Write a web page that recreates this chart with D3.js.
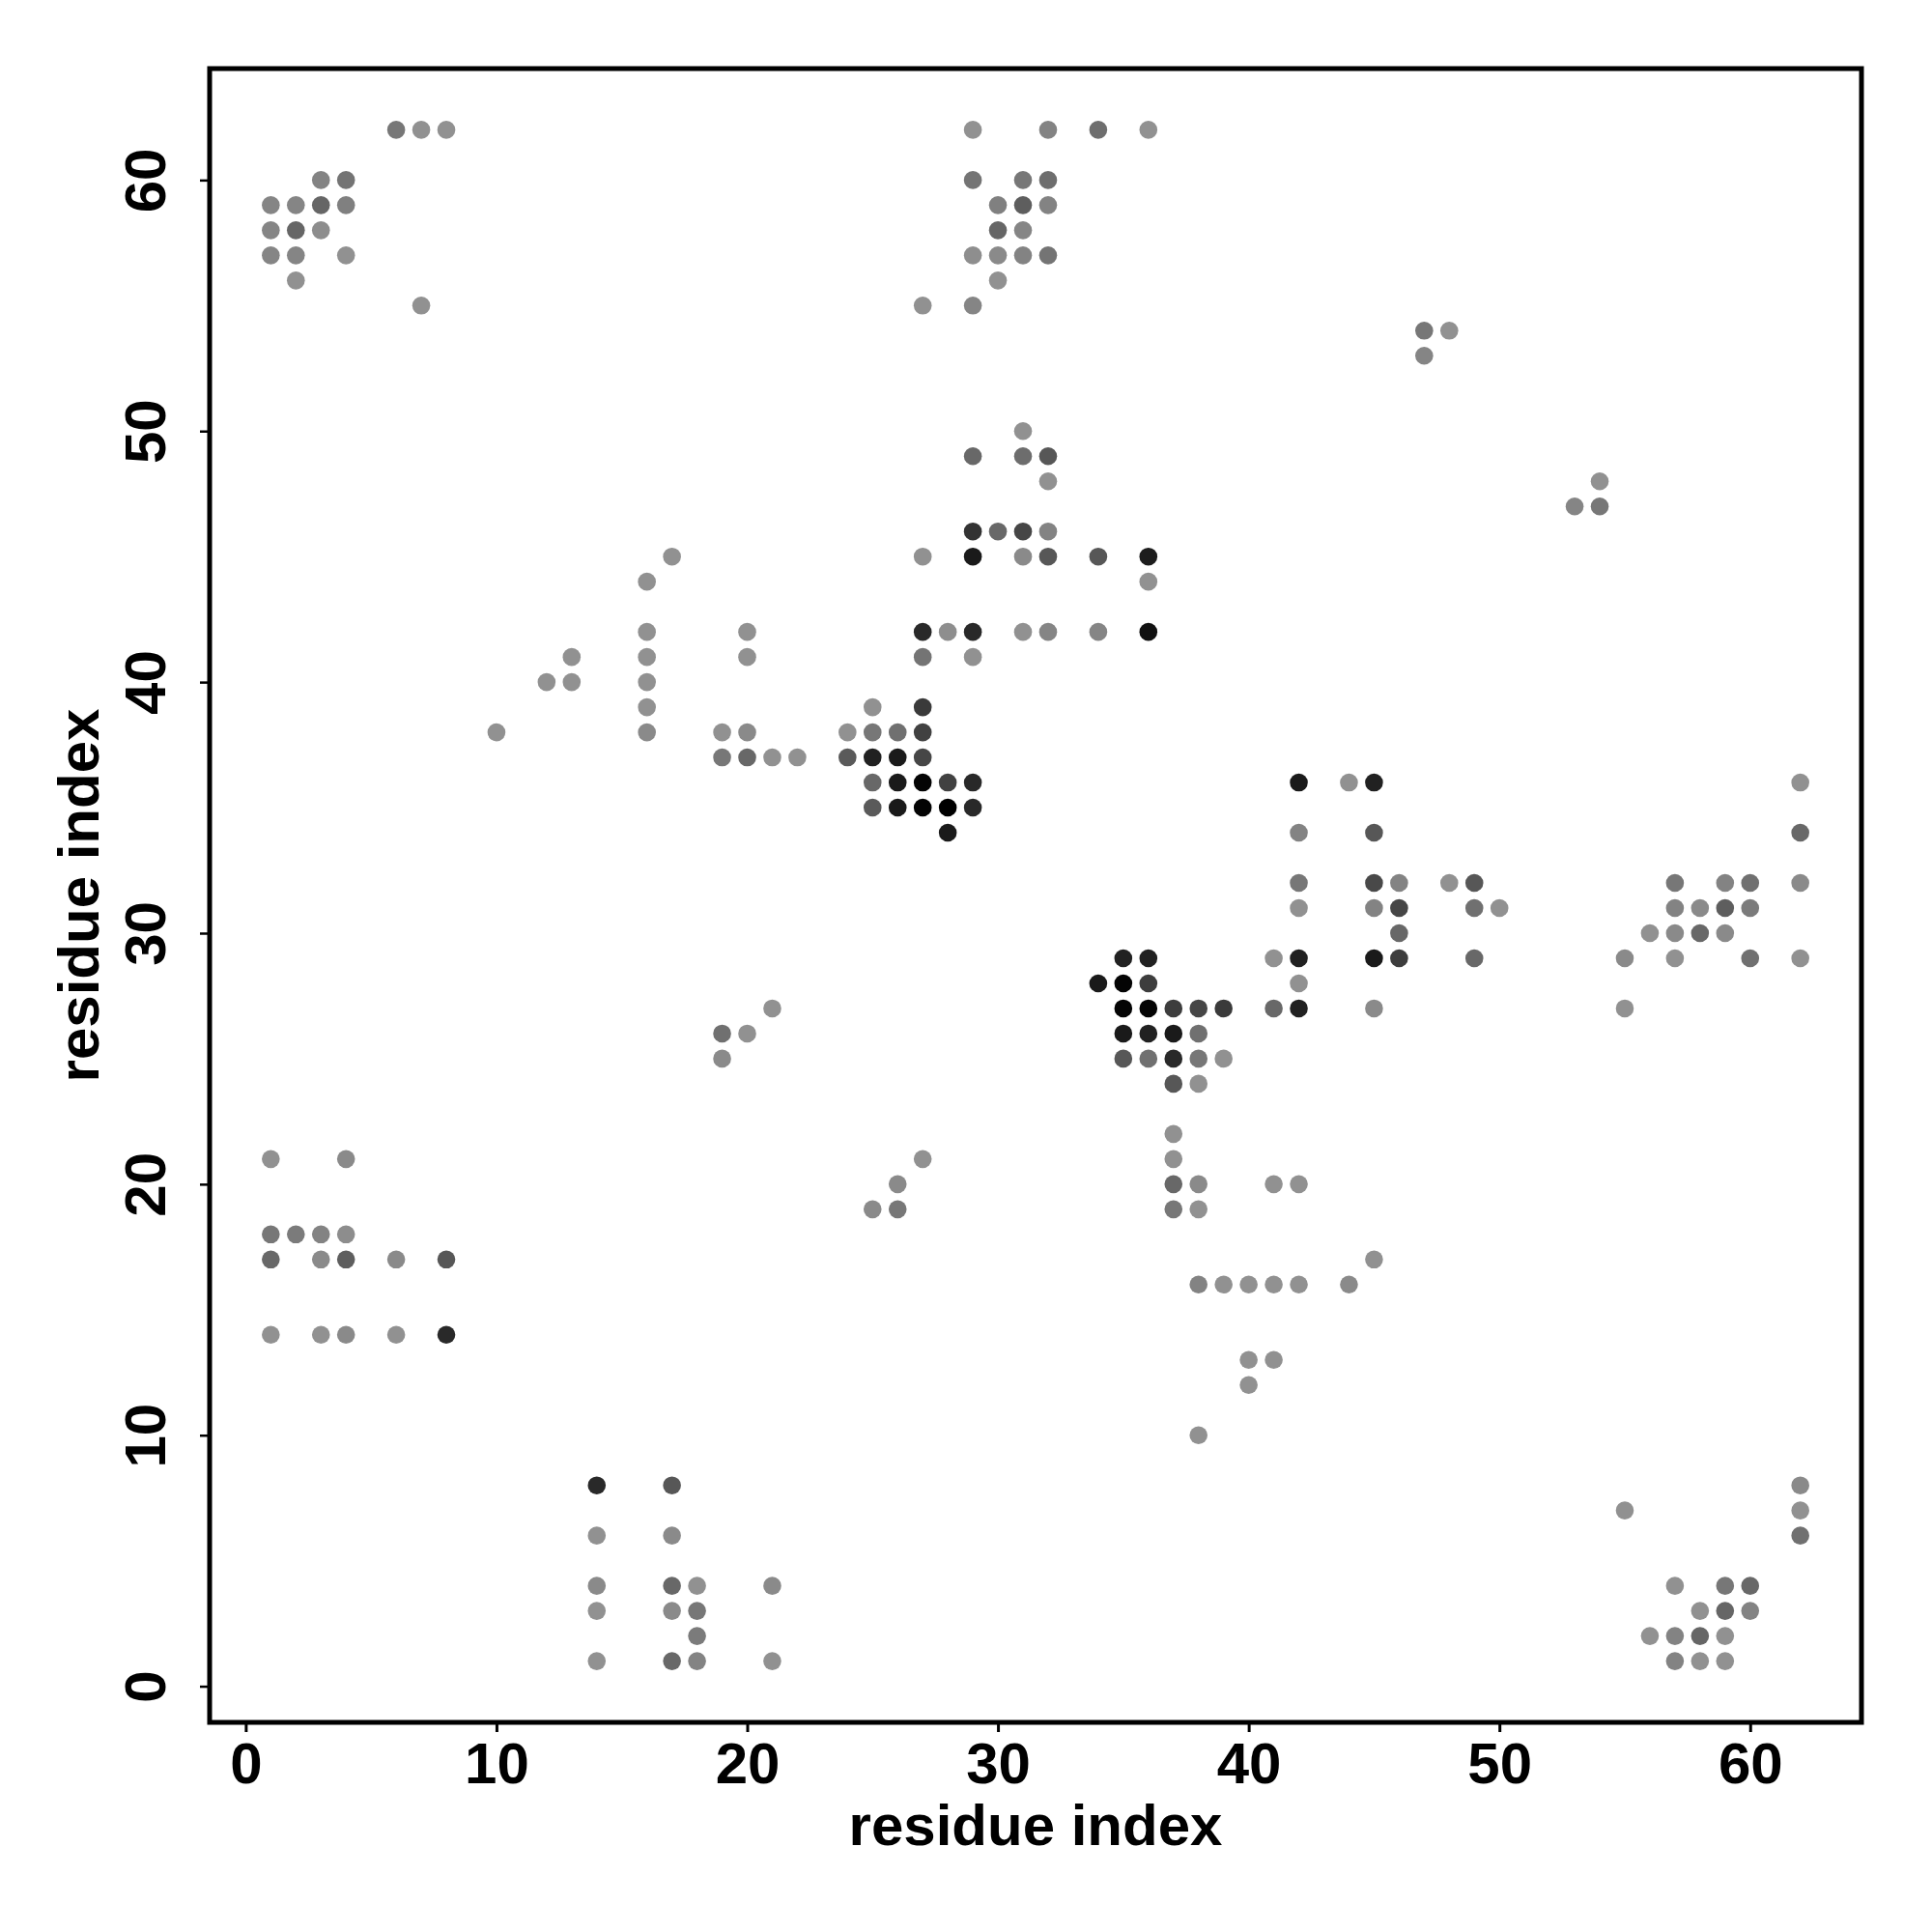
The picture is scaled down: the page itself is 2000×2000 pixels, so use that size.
<!DOCTYPE html>
<html>
<head>
<meta charset="utf-8">
<script src="https://cdn.jsdelivr.net/npm/d3@7"></script>
<style>
  body { margin: 0; background: #fff; }
  text { font-family: "Liberation Sans", Arial, Helvetica, sans-serif; font-weight: bold; }
</style>
</head>
<body>
<div id="contactMap"></div>
<script>
  ///////////// DATA: residue pairs (x, y) and contact weight ///////////////
  var resX = [
    6, 7, 8, 29, 32, 34, 36,
    3, 4, 29, 31, 32,
    1, 2, 3, 4, 30, 31, 32,
    1, 2, 3, 30, 31,
    1, 2, 4, 29, 30, 31, 32,
    2, 30,
    7, 27, 29,
    47, 48,
    47,
    31,
    29, 31, 32,
    32, 54,
    53, 54,
    29, 30, 31, 32,
    17, 27, 29, 31, 32, 34, 36,
    16, 36,
    16, 20, 27, 28, 29, 31, 32, 34, 36,
    13, 16, 20, 27, 29,
    12, 13, 16,
    16, 25, 27,
    10, 16, 19, 20, 24, 25, 26, 27,
    19, 20, 21, 22, 24, 25, 26, 27,
    25, 26, 27, 28, 29, 42, 44, 45, 62,
    25, 26, 27, 28, 29,
    28, 42, 45, 62,
    42, 45, 46, 48, 49, 57, 59, 60, 62,
    42, 45, 46, 49, 50, 57, 58, 59, 60,
    46, 56, 57, 58, 59,
    35, 36, 41, 42, 45, 46, 49, 55, 57, 60, 62,
    34, 35, 36, 42,
    21, 35, 36, 37, 38, 39, 41, 42, 45, 55,
    19, 20, 35, 36, 37, 38,
    19, 35, 36, 37, 38, 39,
    37, 38,
    37,
    1, 4, 27, 37,
    26, 37, 38, 41, 42,
    25, 26, 37, 38,
    1, 2, 3, 4,
    1, 3, 4, 6, 8, 45,
    38, 39, 40, 41, 42, 44,
    1, 3, 4, 6, 8,
    40, 41,
    40,
    38,
    14, 17, 62,
    55, 62,
    14, 17, 62,
    14, 17, 18, 21, 57, 59, 60,
    14, 17, 18, 58, 59, 60,
    18, 56, 57, 58, 59,
    14, 17, 18, 21, 57, 58, 59
  ]

  var resY = [
    62, 62, 62, 62, 62, 62, 62,
    60, 60, 60, 60, 60,
    59, 59, 59, 59, 59, 59, 59,
    58, 58, 58, 58, 58,
    57, 57, 57, 57, 57, 57, 57,
    56, 56,
    55, 55, 55,
    54, 54,
    53,
    50,
    49, 49, 49,
    48, 48,
    47, 47,
    46, 46, 46, 46,
    45, 45, 45, 45, 45, 45, 45,
    44, 44,
    42, 42, 42, 42, 42, 42, 42, 42, 42,
    41, 41, 41, 41, 41,
    40, 40, 40,
    39, 39, 39,
    38, 38, 38, 38, 38, 38, 38, 38,
    37, 37, 37, 37, 37, 37, 37, 37,
    36, 36, 36, 36, 36, 36, 36, 36, 36,
    35, 35, 35, 35, 35,
    34, 34, 34, 34,
    32, 32, 32, 32, 32, 32, 32, 32, 32,
    31, 31, 31, 31, 31, 31, 31, 31, 31,
    30, 30, 30, 30, 30,
    29, 29, 29, 29, 29, 29, 29, 29, 29, 29, 29,
    28, 28, 28, 28,
    27, 27, 27, 27, 27, 27, 27, 27, 27, 27,
    26, 26, 26, 26, 26, 26,
    25, 25, 25, 25, 25, 25,
    24, 24,
    22,
    21, 21, 21, 21,
    20, 20, 20, 20, 20,
    19, 19, 19, 19,
    18, 18, 18, 18,
    17, 17, 17, 17, 17, 17,
    16, 16, 16, 16, 16, 16,
    14, 14, 14, 14, 14,
    13, 13,
    12,
    10,
    8, 8, 8,
    7, 7,
    6, 6, 6,
    4, 4, 4, 4, 4, 4, 4,
    3, 3, 3, 3, 3, 3,
    2, 2, 2, 2, 2,
    1, 1, 1, 1, 1, 1, 1
  ]

  // 0 = weak contact (light grey) ... 1 = strong contact (black)
  var weight = [
    0.18, 0, 0, 0, 0.1, 0.24, 0,
    0.1, 0.2, 0.2, 0.18, 0.24,
    0.08, 0.08, 0.3, 0.12, 0.12, 0.35, 0.1,
    0.08, 0.3, 0.03, 0.3, 0.08,
    0.08, 0.08, 0, 0.02, 0.05, 0.1, 0.2,
    0, 0,
    0, 0, 0.08,
    0.18, 0,
    0.08,
    0,
    0.28, 0.25, 0.4,
    0, 0,
    0.08, 0.18,
    0.65, 0.28, 0.52, 0.1,
    0, 0, 0.82, 0.05, 0.4, 0.4, 0.8,
    0, 0,
    0, 0, 0.72, 0.02, 0.72, 0, 0.08, 0.08, 0.88,
    0, 0, 0, 0.2, 0,
    0, 0, 0,
    0, 0, 0.6,
    0, 0.05, 0, 0.05, 0, 0.18, 0.23, 0.55,
    0.18, 0.28, 0, 0, 0.38, 0.77, 0.82, 0.52,
    0.28, 0.82, 0.97, 0.55, 0.72, 0.82, 0, 0.77, 0,
    0.38, 0.82, 0.97, 1, 0.72,
    0.82, 0.1, 0.4, 0.28,
    0.18, 0.5, 0.1, 0, 0.4, 0.18, 0.1, 0.23, 0.05,
    0, 0.1, 0.52, 0.23, 0, 0.1, 0.05, 0.35, 0.15,
    0.28, 0, 0.05, 0.28, 0.05,
    0.77, 0.77, 0, 0.77, 0.82, 0.58, 0.28, 0.05, 0, 0.23, 0,
    0.82, 0.97, 0.58, 0,
    0, 0.97, 0.97, 0.58, 0.52, 0.6, 0.28, 0.77, 0.05, 0,
    0.23, 0, 0.82, 0.77, 0.82, 0.23,
    0.05, 0.4, 0.23, 0.72, 0.18, 0,
    0.4, 0,
    0,
    0, 0.05, 0, 0,
    0.05, 0.28, 0.05, 0, 0,
    0.05, 0.18, 0.18, 0,
    0.18, 0.15, 0.1, 0.03,
    0.28, 0.05, 0.35, 0.05, 0.4, 0,
    0.1, 0, 0, 0, 0, 0.05,
    0, 0, 0.05, 0, 0.72,
    0, 0,
    0,
    0,
    0.72, 0.4, 0.05,
    0, 0,
    0, 0.05, 0.23,
    0.05, 0.28, 0, 0.05, 0, 0.18, 0.28,
    0, 0.05, 0.18, 0, 0.3, 0.1,
    0.15, 0, 0.1, 0.3, 0,
    0, 0.28, 0.1, 0, 0.1, 0, 0
  ]

  var tickValues = [0, 10, 20, 30, 40, 50, 60]
  var axisTitle = "residue index"

  /////////////////////////// BUILD DATASET //////////////////////////////
  var dataset = []
  for (var i = 0; i < resX.length; i++) {
    dataset.push({ x: resX[i], y: resY[i], w: weight[i] })
  }

  /////////////////////////// CHART ///////////////////////////////////////
  var w = 2000
  var h = 2000
  var box = { left: 217, right: 1927, top: 71, bottom: 1783 }

  // R-style 4% padding around data range 1..62
  var lo = 1 - 61 * 0.04
  var hi = 62 + 61 * 0.04

  var x = d3.scaleLinear().domain([lo, hi]).range([box.left, box.right])
  var y = d3.scaleLinear().domain([lo, hi]).range([box.bottom, box.top])
  var shade = d3.scaleLinear().domain([0, 1]).range(["#919191", "#000000"])

  var svg = d3.select("#contactMap")
              .append("svg")
              .attr("width", w)
              .attr("height", h)

  svg.append("rect")
    .attr("width", w)
    .attr("height", h)
    .attr("fill", "#fff")

  svg.selectAll("circle")
    .data(dataset)
    .enter()
    .append("circle")
    .attr("cx", function(d) { return x(d.x) })
    .attr("cy", function(d) { return y(d.y) })
    .attr("r", 9.3)
    .attr("fill", function(d) { return shade(d.w) })

  var xAxis = d3.axisBottom(x).tickValues(tickValues).tickSize(10).tickPadding(10)
  var gx = svg.append("g")
    .attr("transform", "translate(0," + box.bottom + ")")
    .call(xAxis)
  gx.select(".domain")
    .attr("d", "M" + x(0) + ",0H" + x(60))
    .attr("stroke-width", 3)
  gx.selectAll(".tick line").attr("stroke-width", 3)
  gx.selectAll(".tick text")
    .attr("font-size", 60)
    .attr("font-family", "Liberation Sans, Arial, sans-serif")
    .attr("font-weight", "bold")
    .attr("fill", "#000")

  var yAxis = d3.axisLeft(y).tickValues(tickValues).tickSize(10).tickPadding(0)
  var gy = svg.append("g")
    .attr("transform", "translate(" + box.left + ",0)")
    .call(yAxis)
  gy.select(".domain")
    .attr("d", "M0," + y(0) + "V" + y(60))
    .attr("stroke-width", 3)
  gy.selectAll(".tick line").attr("stroke-width", 2.5)
  gy.selectAll(".tick text")
    .attr("font-size", 60)
    .attr("font-family", "Liberation Sans, Arial, sans-serif")
    .attr("font-weight", "bold")
    .attr("fill", "#000")
    .attr("x", null)
    .attr("dy", null)
    .attr("text-anchor", "middle")
    .attr("transform", "translate(-46,0) rotate(-90)")

  // plot frame (drawn last, thick like the R box)
  svg.append("rect")
    .attr("x", box.left)
    .attr("y", box.top)
    .attr("width", box.right - box.left)
    .attr("height", box.bottom - box.top)
    .attr("fill", "none")
    .attr("stroke", "#000")
    .attr("stroke-width", 5)

  // axis titles
  svg.append("text")
    .attr("x", (box.left + box.right) / 2)
    .attr("y", 1910)
    .attr("text-anchor", "middle")
    .attr("font-size", 60)
    .text(axisTitle)

  svg.append("text")
    .attr("transform", "translate(102," + (box.top + box.bottom) / 2 + ") rotate(-90)")
    .attr("text-anchor", "middle")
    .attr("font-size", 60)
    .text(axisTitle)
</script>
</body>
</html>
